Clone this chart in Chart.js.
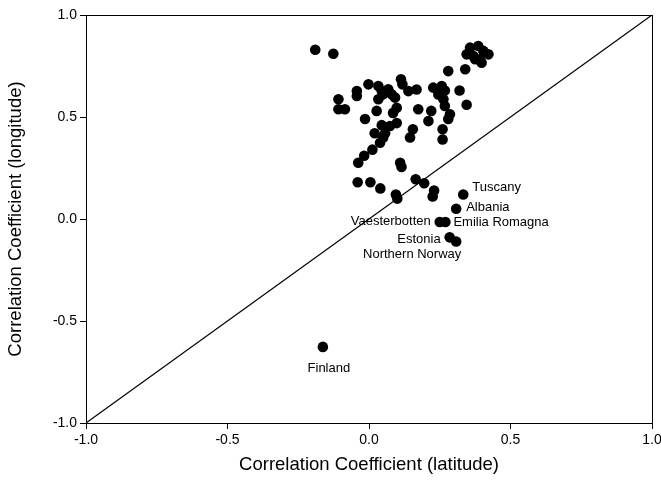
<!DOCTYPE html>
<html>
<head>
<meta charset="utf-8">
<script src="https://cdn.jsdelivr.net/npm/chart.js@4"></script>
<style>
  body { margin: 0; background: #fff; }
</style>
</head>
<body>
<canvas id="corrChart" width="661" height="492"></canvas>
<script>
// correlation with latitude (x) and longitude (y), unlabelled regions
var xValues = [
  -0.19, -0.126,
  0.357, 0.386, 0.404, 0.422, 0.345, 0.369, 0.392, 0.398, 0.375,
  0.28, 0.34, 0.32, 0.345,
  -0.108, -0.108, -0.085, -0.043, -0.043, -0.002,
  0.033, 0.045, 0.068, 0.08, 0.092, 0.033, 0.05,
  0.113, 0.118, 0.139, 0.168,
  0.227, 0.257, 0.268, 0.245, 0.263, 0.268, 0.286, 0.28, 0.22, 0.21, 0.26, 0.26, 0.174,
  -0.014, 0.027, 0.085, 0.098, 0.098, 0.045, 0.074, 0.057, 0.02, 0.039, 0.012, -0.017, -0.038, 0.05,
  0.155, 0.145, 0.11, 0.115,
  -0.04, 0.005, 0.04, 0.095, 0.10, 0.165, 0.195, 0.23, 0.225
];
var yValues = [
  0.83, 0.81,
  0.84, 0.848, 0.824, 0.807, 0.807, 0.799, 0.783, 0.766, 0.783,
  0.725, 0.734, 0.63, 0.56,
  0.587, 0.538, 0.538, 0.627, 0.603, 0.66,
  0.652, 0.627, 0.636, 0.611, 0.595, 0.587, 0.611,
  0.685, 0.66, 0.627, 0.635,
  0.644, 0.652, 0.63, 0.61, 0.587, 0.554, 0.513, 0.49, 0.53, 0.48, 0.44, 0.39, 0.538,
  0.49, 0.53, 0.52, 0.545, 0.47, 0.46, 0.456, 0.42, 0.42, 0.374, 0.34, 0.31, 0.276, 0.40,
  0.44, 0.40, 0.276, 0.255,
  0.18, 0.18, 0.15, 0.12, 0.10, 0.195, 0.175, 0.14, 0.11
];

// labelled regions
var namedRegions = ["Tuscany", "Albania", "Vaesterbotten", "Emilia Romagna", "Estonia", "Northern Norway", "Finland"];
var namedX = [0.333, 0.308, 0.25, 0.27, 0.285, 0.308, -0.163];
var namedY = [0.12, 0.05, -0.015, -0.015, -0.09, -0.11, -0.627];

var axisTicks = [-1.0, -0.5, 0.0, 0.5, 1.0];
var diagonal = [-1, 1];

var fontFamily = "'Liberation Sans', Arial, sans-serif";

// where each region name sits relative to its dot
var labelPlace = {
  "Tuscany": [9, -7, "left"],
  "Albania": [10, -1, "left"],
  "Vaesterbotten": [-9, -1, "right"],
  "Emilia Romagna": [8, 0, "left"],
  "Estonia": [-9, 2, "right"],
  "Northern Norway": [-44, 13, "center"],
  "Finland": [6, 22, "center"]
};

var regionLabels = {
  id: "regionLabels",
  afterDatasetsDraw: function(chart) {
    var ctx = chart.ctx;
    var meta = chart.getDatasetMeta(2);
    ctx.save();
    ctx.font = "13px " + fontFamily;
    ctx.fillStyle = "#000";
    ctx.textBaseline = "middle";
    meta.data.forEach(function(pt, i) {
      var name = namedRegions[i];
      var p = labelPlace[name];
      ctx.textAlign = p[2];
      ctx.fillText(name, pt.x + p[0], pt.y + p[1]);
    });
    ctx.restore();
  }
};

var frame = {
  id: "frame",
  afterDraw: function(chart) {
    var a = chart.chartArea;
    var ctx = chart.ctx;
    ctx.save();
    ctx.strokeStyle = "#000";
    ctx.lineWidth = 1;
    ctx.strokeRect(Math.round(a.left) + 0.5, Math.round(a.top) + 0.5, Math.round(a.right - a.left), Math.round(a.bottom - a.top));
    ctx.restore();
  }
};

function toPoints(xs, ys) {
  return xs.map(function(x, i) { return { x: x, y: ys[i] }; });
}

new Chart("corrChart", {
  type: "scatter",
  data: {
    datasets: [
      {
        data: toPoints(diagonal, diagonal),
        showLine: true,
        borderColor: "#000",
        borderWidth: 1.2,
        pointRadius: 0
      },
      {
        data: toPoints(xValues, yValues),
        backgroundColor: "#000",
        pointRadius: 5.3,
        pointBorderWidth: 0
      },
      {
        data: toPoints(namedX, namedY),
        backgroundColor: "#000",
        pointRadius: 5.3,
        pointBorderWidth: 0
      }
    ]
  },
  options: {
    responsive: false,
    animation: false,
    devicePixelRatio: 1,
    layout: { padding: { top: 15, right: 9, left: 0, bottom: 0 } },
    plugins: {
      legend: { display: false },
      tooltip: { enabled: false }
    },
    scales: {
      x: {
        type: "linear",
        min: -1, max: 1,
        afterBuildTicks: function(s) { s.ticks = axisTicks.map(function(v) { return { value: v }; }); },
        afterFit: function(s) { s.height = 69; s.paddingLeft = 0; s.paddingRight = 0; },
        grid: { drawOnChartArea: false, tickLength: 6, color: "#000" },
        border: { color: "#000" },
        ticks: {
          color: "#000",
          padding: 3,
          maxRotation: 0,
          font: { family: fontFamily, size: 14 },
          callback: function(v) { return v.toFixed(1); }
        },
        title: {
          display: true,
          text: "Correlation Coefficient (latitude)",
          color: "#000",
          font: { family: fontFamily, size: 18.5 },
          padding: { top: 0, bottom: 16 }
        }
      },
      y: {
        type: "linear",
        min: -1, max: 1,
        afterBuildTicks: function(s) { s.ticks = axisTicks.map(function(v) { return { value: v }; }); },
        afterFit: function(s) { s.width = 86; s.paddingTop = 0; s.paddingBottom = 0; },
        grid: { drawOnChartArea: false, tickLength: 6, color: "#000" },
        border: { color: "#000" },
        ticks: {
          color: "#000",
          padding: 3,
          font: { family: fontFamily, size: 14 },
          callback: function(v) { return v.toFixed(1); }
        },
        title: {
          display: true,
          text: "Correlation Coefficient (longitude)",
          color: "#000",
          font: { family: fontFamily, size: 18.5 },
          padding: { top: 5, bottom: 0 }
        }
      }
    }
  },
  plugins: [regionLabels, frame]
});
</script>
</body>
</html>
